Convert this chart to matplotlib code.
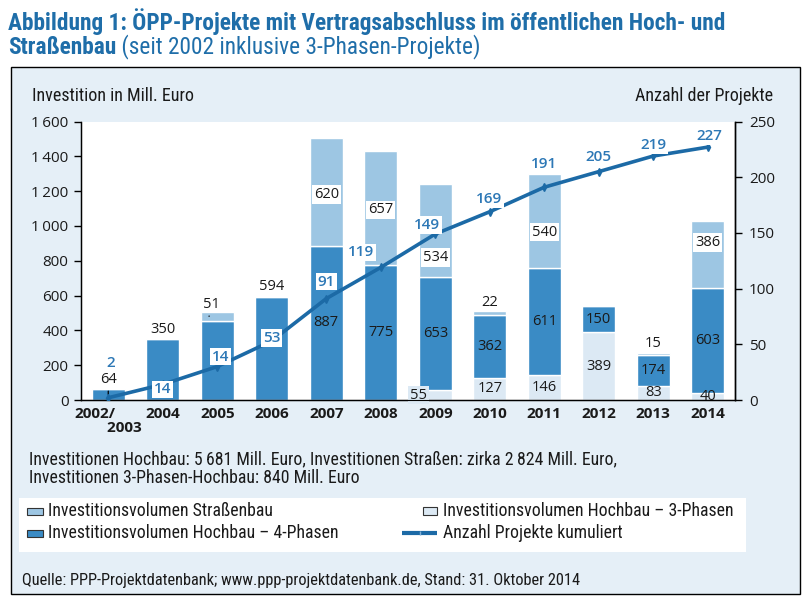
import matplotlib
matplotlib.use("Agg")
import matplotlib.pyplot as plt
from matplotlib.patches import Rectangle
from matplotlib.lines import Line2D
from matplotlib.ticker import FuncFormatter, FixedLocator
import numpy as np

# ---------------- data ----------------
categories = ["2002/\n2003", "2004", "2005", "2006", "2007", "2008",
              "2009", "2010", "2011", "2012", "2013", "2014"]
hochbau_3phasen = [0, 0, 0, 0, 0, 0, 55, 127, 146, 389, 83, 40]
hochbau_4phasen = [64, 350, 455, 594, 887, 775, 653, 362, 611, 150, 174, 603]
strassenbau = [0, 0, 51, 0, 620, 657, 534, 22, 540, 0, 15, 386]
projekte_kumuliert = [2, 14, 30, 53, 91, 119, 149, 169, 191, 205, 219, 227]
projekte_labels = ["2", "14", "14", "53", "91", "119", "149", "169", "191", "205", "219", "227"]
left_ticks = [0, 200, 400, 600, 800, 1000, 1200, 1400, 1600]
right_ticks = [0, 50, 100, 150, 200, 250]

title_line1 = "Abbildung 1: ÖPP-Projekte mit Vertragsabschluss im öffentlichen Hoch- und"
title_line2a = "Straßenbau"
title_line2b = " (seit 2002 inklusive 3-Phasen-Projekte)"
ylabel_left = "Investition in Mill. Euro"
ylabel_right = "Anzahl der Projekte"
note_lines = ["Investitionen Hochbau: 5\u2009681 Mill. Euro, Investitionen Straßen: zirka 2\u2009824 Mill. Euro,",
              "Investitionen 3-Phasen-Hochbau: 840 Mill. Euro"]
legend_labels = ["Investitionsvolumen Straßenbau", "Investitionsvolumen Hochbau \u2013 4-Phasen",
                 "Investitionsvolumen Hochbau \u2013 3-Phasen", "Anzahl Projekte kumuliert"]
source = "Quelle: PPP-Projektdatenbank; www.ppp-projektdatenbank.de, Stand: 31. Oktober 2014"

# ---------------- style ----------------
NARROW = ["Roboto Condensed", "IBM Plex Sans Condensed", "DejaVu Sans"]
NUM = ["Open Sans", "Noto Sans", "DejaVu Sans"]
TITLE_C = "#1f6ea9"
C_S = "#9dc6e3"
C_4 = "#3a8bc5"
C_3 = "#dce9f4"
LINE_C = "#1c6aa6"
LINE_TXT = "#2d78b6"
PANEL = "#e5eff7"
TXT = "#1a1a1a"

W, H = 808, 602
fig = plt.figure(figsize=(W / 100, H / 100), dpi=100)

bg = fig.add_axes([0, 0, 1, 1], zorder=0)
bg.set_xlim(0, W)
bg.set_ylim(H, 0)
bg.axis("off")
bg.add_patch(Rectangle((11, 67), 789, 527, fc=PANEL, ec="black", lw=1))
bg.add_patch(Rectangle((19, 498), 727, 54, fc="white", ec="none"))

# title
TS = 16.8
bg.text(8, 22, title_line1, fontsize=TS, fontweight="bold", color=TITLE_C,
        va="center", ha="left", family=NARROW)
t2 = bg.text(8, 47, title_line2a, fontsize=TS, fontweight="bold", color=TITLE_C,
             va="center", ha="left", family=NARROW)
fig.canvas.draw()
bb = t2.get_window_extent()
bg.text(bb.x1, 47, title_line2b, fontsize=TS, color=TITLE_C,
        va="center", ha="left", family=NARROW)

bg.text(32, 96, ylabel_left, fontsize=13, color=TXT, va="center", ha="left", family=NARROW)
bg.text(773, 96, ylabel_right, fontsize=13, color=TXT, va="center", ha="right", family=NARROW)
bg.text(29, 459, note_lines[0], fontsize=12.8, color=TXT, va="center", ha="left", family=NARROW)
bg.text(29, 478, note_lines[1], fontsize=12.8, color=TXT, va="center", ha="left", family=NARROW)
bg.text(22, 580, source, fontsize=11.8, color=TXT, va="center", ha="left", family=NARROW)

# legend (manual)
bg.add_patch(Rectangle((27, 508), 16, 7, fc=C_S, ec="#333333", lw=0.8))
bg.add_patch(Rectangle((27, 530), 16, 7, fc=C_4, ec="#333333", lw=0.8))
bg.add_patch(Rectangle((423, 507), 14, 8, fc=C_3, ec="#333333", lw=0.8))
bg.add_line(Line2D([402, 437], [533, 533], color=LINE_C, lw=3, solid_capstyle="butt"))
bg.add_line(Line2D([419.5], [533], color="#7fb0d8", lw=0, marker="|", ms=3, mew=1))
LS = 12.8
bg.text(48, 511, legend_labels[0], fontsize=LS, color=TXT, va="center", family=NARROW)
bg.text(48, 533, legend_labels[1], fontsize=LS, color=TXT, va="center", family=NARROW)
bg.text(443, 511, legend_labels[2], fontsize=LS, color=TXT, va="center", family=NARROW)
bg.text(443, 533, legend_labels[3], fontsize=LS, color=TXT, va="center", family=NARROW)

# ---------------- chart ----------------
ax = fig.add_axes([81 / W, 1 - 400 / H, (735 - 81) / W, (400 - 121.5) / H], zorder=2)
ax.set_facecolor("white")
x = np.arange(len(categories))
h3 = np.array(hochbau_3phasen, float)
h4 = np.array(hochbau_4phasen, float)
hs = np.array(strassenbau, float)
bw = 0.6
ax.bar(x, h3, width=bw, color=C_3, edgecolor="white", lw=1)
ax.bar(x, h4, bottom=h3, width=bw, color=C_4, edgecolor="white", lw=1)
ax.bar(x, hs, bottom=h3 + h4, width=bw, color=C_S, edgecolor="white", lw=1)
ax.set_xlim(-0.5, len(categories) - 0.5)
ax.set_ylim(left_ticks[0], left_ticks[-1])
ax.yaxis.set_major_locator(FixedLocator(left_ticks))
ax.yaxis.set_major_formatter(FuncFormatter(lambda v, p: f"{v:,.0f}".replace(",", "\u2009")))
ax.set_xticks(x)
shown = [c.replace("\n", "\n" + " " * 8) for c in categories]
ax.set_xticklabels(shown, fontsize=11, fontweight="bold", color=TXT, family=NUM,
                   linespacing=1.0)
for lab in ax.get_xticklabels():
    lab.set_multialignment("left")
ax.tick_params(axis="x", length=0, pad=5)
ax.tick_params(axis="y", direction="out", length=5, width=1, pad=4, labelsize=11, labelcolor=TXT)
for lab in ax.get_yticklabels():
    lab.set_family(NUM)
ax.spines["top"].set_visible(False)
for s in ("left", "bottom", "right"):
    ax.spines[s].set_linewidth(1)

lab_kw = dict(fontsize=10.5, color=TXT, family=NUM, ha="center", va="center",
              textcoords="offset pixels", annotation_clip=False)
box_white = dict(boxstyle="square,pad=0.12", fc="white", ec="none")

# labels for 3-phase segments
for i, v in enumerate(hochbau_3phasen):
    if v <= 0:
        continue
    if i == 6:
        ax.annotate(str(v), xy=(i, v / 2), xytext=(-17, 0),
                    bbox=dict(boxstyle="square,pad=0.12", fc=C_3, ec="none"), **lab_kw)
    else:
        ax.annotate(str(v), xy=(i, v / 2), xytext=(0, 0), **lab_kw)

# labels for 4-phase segments
top_4 = [0, 1, 3]
skip_4 = [2]
for i, v in enumerate(hochbau_4phasen):
    if i in skip_4:
        continue
    if i in top_4:
        if i == 0:
            ax.annotate(str(v), xy=(i, h3[i] + v / 2), xytext=(0, 15),
                        arrowprops=dict(arrowstyle="-", lw=0.9, color="black",
                                        shrinkA=1, shrinkB=0), **lab_kw)
        else:
            ax.annotate(str(v), xy=(i, h3[i] + v), xytext=(0, 10), **lab_kw)
    else:
        ax.annotate(str(v), xy=(i, h3[i] + v / 2), xytext=(0, 0), **lab_kw)

# labels for road segments
box_offsets = {4: -3, 5: -2, 6: -27, 8: -11, 11: 12}
for i, v in enumerate(strassenbau):
    if v <= 0:
        continue
    base = h3[i] + h4[i]
    if i in box_offsets:
        ax.annotate(str(v), xy=(i, base + v / 2), xytext=(0, box_offsets[i]),
                    bbox=box_white, **lab_kw)
    elif i == 2:
        ax.annotate(str(v), xy=(i - 0.15, base + v / 2), xytext=(2, 12),
                    arrowprops=dict(arrowstyle="-", lw=0.9, color="black",
                                    shrinkA=1, shrinkB=0), **lab_kw)
    else:
        ax.annotate(str(v), xy=(i, base + v), xytext=(0, 9), **lab_kw)

# cumulative line on secondary axis
ax2 = ax.twinx()
ax2.set_ylim(right_ticks[0], right_ticks[-1])
ax2.yaxis.set_major_locator(FixedLocator(right_ticks))
ax2.tick_params(axis="y", direction="out", length=5, width=1, pad=5, labelsize=11, labelcolor=TXT)
for lab in ax2.get_yticklabels():
    lab.set_family(NUM)
ax2.spines["top"].set_visible(False)
ax2.spines["right"].set_linewidth(1)
ax2.plot(x, projekte_kumuliert, color=LINE_C, lw=2.6, marker="d", ms=4, zorder=3,
         solid_capstyle="round")

line_offsets = [(2, 35), (0, -5), (3, 10), (0, 3), (0, 17), (-20, 15),
                (-8, 9), (-1, 13), (0, 23), (0, 15), (0, 11), (2, 11)]
for i, (v, t) in enumerate(zip(projekte_kumuliert, projekte_labels)):
    kw = dict(fontsize=11, fontweight=600, color=LINE_TXT, family=NUM,
              ha="center", va="center", textcoords="offset pixels",
              annotation_clip=False, zorder=5)
    if i > 0:
        kw["bbox"] = dict(boxstyle="square,pad=0.12", fc="white", ec="none")
    ax2.annotate(t, xy=(i, v), xytext=line_offsets[i], **kw)

fig.savefig("out.png", dpi=100)
